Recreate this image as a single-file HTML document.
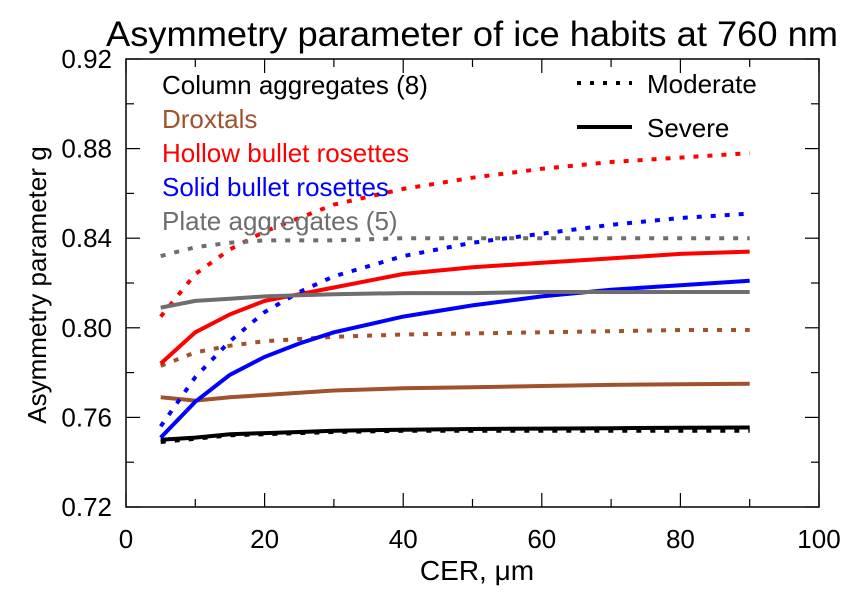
<!DOCTYPE html>
<html><head><meta charset="utf-8"><style>
body{margin:0;background:#fff}
svg text{font-family:"Liberation Sans",sans-serif}
</style></head><body>
<svg id="c" width="861" height="600" xmlns="http://www.w3.org/2000/svg">
<text x="106" y="46" font-size="35" textLength="732" lengthAdjust="spacingAndGlyphs">Asymmetry parameter of ice habits at 760 nm</text>
<g id="plot"></g>
<text x="477" y="580" font-size="28" text-anchor="middle">CER, μm</text>
<text transform="translate(46,285) rotate(-90)" font-size="26" text-anchor="middle">Asymmetry parameter g</text>
<g font-size="26">
<text x="162" y="94" fill="#000">Column aggregates (8)</text>
<text x="162" y="128" fill="#a0522d">Droxtals</text>
<text x="162" y="162" fill="#ff0000">Hollow bullet rosettes</text>
<text x="162" y="196" fill="#0000ff">Solid bullet rosettes</text>
<text x="162" y="230" fill="#6e6e6e">Plate aggregates (5)</text>
<line x1="577" y1="83" x2="632" y2="83" stroke="#000" stroke-width="4" stroke-dasharray="4 9"/>
<text x="647" y="93">Moderate</text>
<line x1="577" y1="127" x2="632" y2="127" stroke="#000" stroke-width="4"/>
<text x="647" y="137">Severe</text>
</g>
</svg>
<script>
const cer = [5,10,15,20,25,30,40,50,60,70,80,90];
const colSev = [0.750,0.751,0.7525,0.753,0.7535,0.754,0.7545,0.7548,0.755,0.7552,0.7554,0.7555];
const colMod = [0.749,0.7505,0.752,0.7525,0.753,0.7535,0.754,0.754,0.754,0.754,0.754,0.754];
const droSev = [0.769,0.7675,0.769,0.770,0.771,0.772,0.773,0.7735,0.774,0.7745,0.7748,0.775];
const droMod = [0.783,0.789,0.792,0.794,0.795,0.796,0.797,0.7975,0.798,0.7985,0.799,0.799];
const holSev = [0.784,0.798,0.806,0.812,0.815,0.818,0.824,0.827,0.829,0.831,0.833,0.834];
const holMod = [0.805,0.824,0.835,0.843,0.849,0.855,0.862,0.867,0.871,0.874,0.876,0.878];
const solSev = [0.751,0.767,0.779,0.787,0.793,0.798,0.805,0.810,0.814,0.817,0.819,0.821];
const solMod = [0.756,0.778,0.794,0.807,0.816,0.823,0.832,0.838,0.842,0.846,0.849,0.851];
const plaSev = [0.809,0.812,0.813,0.814,0.8145,0.815,0.8155,0.8155,0.816,0.816,0.816,0.816];
const plaMod = [0.832,0.836,0.838,0.839,0.839,0.839,0.840,0.840,0.840,0.840,0.840,0.840];
const xTicks = [0,20,40,60,80,100];
const yTicks = [0.72,0.76,0.80,0.84,0.88,0.92];
const yTickLabels = ["0.72","0.76","0.80","0.84","0.88","0.92"];

const X0=126,X1=819,Y0=507,Y1=59;
const sx=v=>X0+(v-0)/(100-0)*(X1-X0);
const sy=v=>Y0-(v-0.72)/(0.92-0.72)*(Y0-Y1);
const NS="http://www.w3.org/2000/svg";
const plot=document.getElementById('plot');
function mk(t,a){const e=document.createElementNS(NS,t);for(const k in a)e.setAttribute(k,a[k]);plot.appendChild(e);return e;}

const series=[
 [colSev,"#000",false,"column-aggregates-severe"],[colMod,"#000",true,"column-aggregates-moderate"],
 [droSev,"#a0522d",false,"droxtals-severe"],[droMod,"#a0522d",true,"droxtals-moderate"],
 [holSev,"#ff0000",false,"hollow-bullet-rosettes-severe"],[holMod,"#ff0000",true,"hollow-bullet-rosettes-moderate"],
 [solSev,"#0000ff",false,"solid-bullet-rosettes-severe"],[solMod,"#0000ff",true,"solid-bullet-rosettes-moderate"],
 [plaSev,"#6e6e6e",false,"plate-aggregates-severe"],[plaMod,"#6e6e6e",true,"plate-aggregates-moderate"]];
series.forEach(s=>{
  const d=s[0].map((v,i)=>(i?'L':'M')+sx(cer[i]).toFixed(1)+','+sy(v).toFixed(1)).join(' ');
  const p=mk('path',{d:d,fill:'none',stroke:s[1],'stroke-width':4});
  if(s[2])p.setAttribute('stroke-dasharray','5 9');
  
  
});

const frame=mk('rect',{x:X0,y:Y1,width:X1-X0,height:Y0-Y1,fill:'none',stroke:'#000','stroke-width':1.5});



for(let v=0;v<=100;v+=10){
  const x=sx(v),L=(v%20===0)?14:8;
  const t1=mk('line',{x1:x,y1:Y0,x2:x,y2:Y0-L,stroke:'#000','stroke-width':1.2});
  
  
  const t2=mk('line',{x1:x,y1:Y1,x2:x,y2:Y1+L,stroke:'#000','stroke-width':1.2});
  
  
}
xTicks.forEach(v=>{
  const t=mk('text',{x:sx(v),y:548,'font-size':26,'text-anchor':'middle'});
  t.textContent=v;
  
  
});
for(let i=0;i<=10;i++){
  const v=0.72+i*0.02,y=sy(v),L=(i%2===0)?14:8;
  const t1=mk('line',{x1:X0,y1:y,x2:X0+L,y2:y,stroke:'#000','stroke-width':1.2});
  
  
  const t2=mk('line',{x1:X1,y1:y,x2:X1-L,y2:y,stroke:'#000','stroke-width':1.2});
  
  
}
yTicks.forEach((v,i)=>{
  const t=mk('text',{x:112,y:sy(v)+9,'font-size':26,'text-anchor':'end'});
  t.textContent=yTickLabels[i];
  
  
});
</script>
</body></html>
